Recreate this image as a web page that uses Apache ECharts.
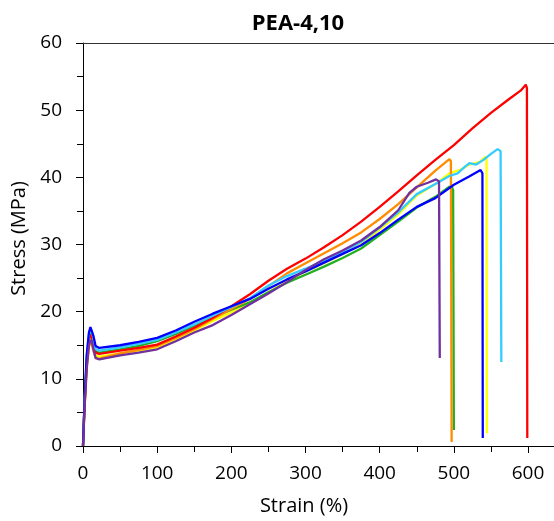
<!DOCTYPE html>
<html>
<head>
<meta charset="utf-8">
<script src="https://cdn.jsdelivr.net/npm/echarts@6/dist/echarts.min.js"></script>
<style>
  html, body { margin: 0; padding: 0; background: #fff; }
  #chart { width: 554px; height: 521px; }
</style>
</head>
<body>
<div id="chart"></div>
<script>
// [strain %, stress MPa] pairs
const yellow = [[0,0],[2,5.5],[5,12],[8,15.3],[10,16.0],[12,15.7],[14,14.8],[17,13.5],[22,13.3],[50,13.8],[75,14.2],[100,14.6],[125,15.8],[150,17.2],[175,18.6],[200,19.9],[225,21.3],[250,22.9],[275,24.5],[300,26.0],[325,27.2],[350,28.6],[375,30.0],[400,32.2],[425,34.5],[450,37.3],[475,39.0],[494,40.6],[510,41.2],[521,41.9],[535,42.3],[543,43.1],[544,42.6],[544.5,1.9]]
const green = [[0,0],[2,6],[5,12.6],[8,16.1],[10,16.8],[12,16.5],[14,15.5],[17,14.1],[22,13.9],[50,14.4],[75,14.9],[100,15.6],[125,16.7],[150,17.9],[175,19.1],[200,20.3],[225,21.4],[250,22.9],[275,24.3],[300,25.5],[325,26.7],[350,28.0],[375,29.4],[400,31.4],[425,33.4],[450,35.5],[475,37.1],[494,38.6],[497,38.7],[499,38.1],[500,2.4]]
const orange = [[0,0],[2,5.5],[5,11.6],[8,14.8],[10,15.5],[12,15.1],[14,14.2],[17,13.1],[22,13.0],[50,13.8],[75,14.3],[100,14.9],[125,16.1],[150,17.4],[175,18.9],[200,20.4],[225,21.9],[250,23.8],[275,25.7],[300,27.2],[325,28.7],[350,30.2],[375,31.8],[400,33.8],[425,36.0],[450,38.5],[475,41.0],[494,42.7],[496,42.4],[497,0.6]]
const red = [[0,0],[2,6],[5,12.4],[8,15.8],[10,16.5],[12,16.2],[14,15.2],[17,13.9],[22,13.7],[50,14.2],[75,14.6],[100,15.1],[125,16.3],[150,17.6],[175,19.1],[200,20.8],[225,22.6],[250,24.6],[275,26.4],[300,27.9],[325,29.6],[350,31.4],[375,33.4],[400,35.6],[425,37.9],[450,40.3],[475,42.6],[500,44.8],[525,47.3],[550,49.6],[575,51.7],[590,52.9],[597,53.8],[598.5,53.3],[599,1.2]]
const cyan = [[0,0],[2,6.5],[5,13.3],[8,16.7],[10,17.4],[12,17.1],[14,16.0],[17,14.4],[22,14.2],[50,14.7],[75,15.2],[100,15.8],[125,16.9],[150,18.1],[175,19.4],[200,20.7],[225,22.0],[250,23.9],[275,25.3],[300,26.4],[325,27.6],[350,28.9],[375,30.4],[400,32.5],[425,34.8],[450,37.5],[475,39.0],[494,40.2],[505,40.6],[515,41.6],[521,42.1],[530,41.9],[540,42.6],[550,43.5],[559,44.2],[563,43.9],[564,12.5]]
const blue = [[0,0],[2,6.5],[5,13.5],[8,16.9],[10,17.7],[12,17.5],[14,16.4],[17,14.9],[22,14.6],[50,15.0],[75,15.5],[100,16.1],[125,17.2],[150,18.5],[175,19.7],[200,20.8],[225,21.9],[250,23.4],[275,24.8],[300,26.0],[325,27.3],[350,28.6],[375,29.9],[400,31.7],[425,33.7],[450,35.6],[475,36.9],[500,38.9],[520,40.1],[536,41.1],[538.5,40.6],[539,1.2]]
const purple = [[0,0],[2,5.5],[5,11.5],[8,15.0],[10,15.8],[12,15.5],[14,14.4],[17,13.1],[22,12.9],[50,13.5],[75,13.9],[100,14.4],[125,15.6],[150,16.9],[175,18.0],[200,19.5],[225,21.1],[250,22.7],[275,24.4],[300,26.2],[325,27.8],[350,29.1],[375,30.6],[400,32.6],[425,35.1],[440,37.7],[450,38.6],[465,39.2],[476,39.7],[480,39.4],[481,13.1]]

const seriesList = [
  { name: 'yellow', data: yellow, color: '#FFFF00' },
  { name: 'green', data: green, color: '#22B022' },
  { name: 'orange', data: orange, color: '#FF8C00' },
  { name: 'red', data: red, color: '#FF0000' },
  { name: 'cyan', data: cyan, color: '#33CCFF' },
  { name: 'blue', data: blue, color: '#0000FF' },
  { name: 'purple', data: purple, color: '#7030A0' },
]

const font = '"Open Sans", Lato, sans-serif'
const chart = echarts.init(document.getElementById('chart'))

chart.setOption({
  animation: false,
  title: {
    text: 'PEA-4,10',
    left: 293,
    top: 8,
    textAlign: 'center',
    textStyle: { fontFamily: font, fontSize: 22, fontWeight: 'bold', color: '#000' },
  },
  grid: { left: 83, right: 0, top: 43, bottom: 75 },
  xAxis: [
    {
      type: 'value',
      min: 0,
      max: 635,
      interval: 100,
      name: 'Strain (%)',
      nameLocation: 'middle',
      nameGap: 50,
      nameTextStyle: { fontFamily: font, fontSize: 20, color: '#000', padding: [0, 29, 0, 0] },
      axisLine: { lineStyle: { color: '#000', width: 1 } },
      axisTick: { show: true, length: 7, lineStyle: { color: '#000' } },
      minorTick: { show: true, splitNumber: 2, length: 6, lineStyle: { color: '#000' } },
      axisLabel: { fontFamily: font, fontSize: 19, color: '#000', margin: 18, showMaxLabel: false },
      splitLine: { show: false },
    },
    {
      type: 'value',
      position: 'top',
      min: 0,
      max: 635,
      axisLine: { show: true, lineStyle: { color: '#333', width: 1 } },
      axisTick: { show: false },
      axisLabel: { show: false },
      splitLine: { show: false },
    },
  ],
  yAxis: {
    type: 'value',
    min: 0,
    max: 60,
    interval: 10,
    name: 'Stress (MPa)',
    nameLocation: 'middle',
    nameGap: 50,
    nameTextStyle: { fontFamily: font, fontSize: 20, color: '#000', padding: [0, 0, 0, 12] },
    axisLine: { show: true, lineStyle: { color: '#000', width: 1 } },
    axisTick: { show: true, length: 7, lineStyle: { color: '#000' } },
    minorTick: { show: true, splitNumber: 2, length: 6, lineStyle: { color: '#000' } },
    axisLabel: { fontFamily: font, fontSize: 19, color: '#000', margin: 21 },
    splitLine: { show: false },
  },
  series: seriesList.map((s) => ({
    type: 'line',
    name: s.name,
    data: s.data,
    showSymbol: false,
    symbol: 'none',
    smooth: false,
    clip: true,
    lineStyle: { color: s.color, width: 2.3 },
    itemStyle: { color: s.color },
  })),
})
</script>
</body>
</html>
